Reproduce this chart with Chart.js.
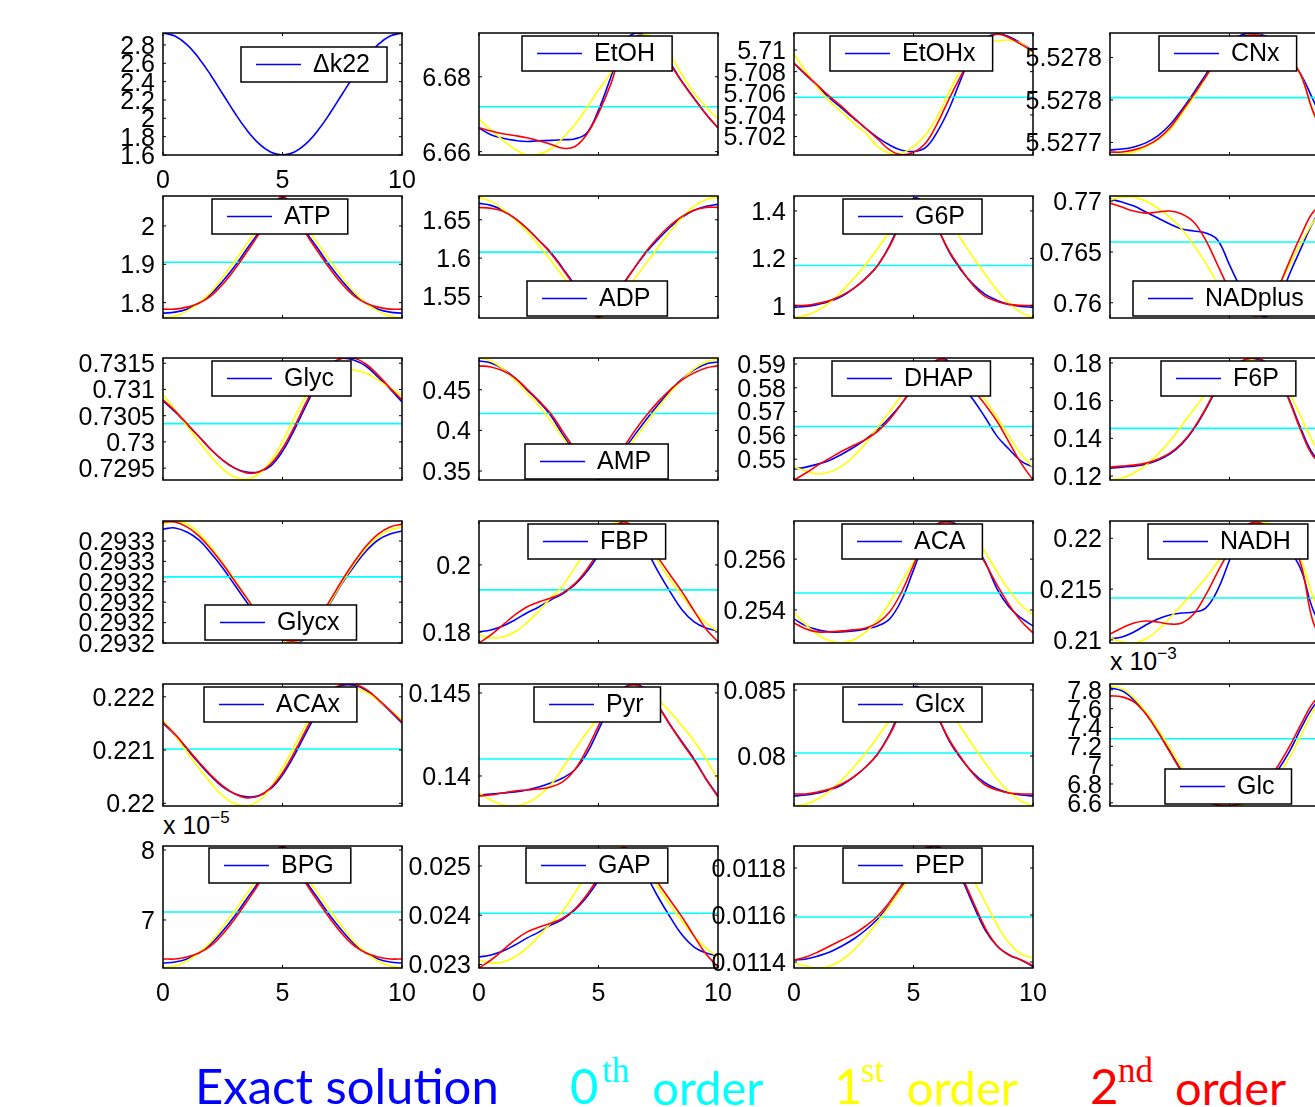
<!DOCTYPE html>
<html>
<head>
<meta charset="utf-8">
<script src="https://cdn.jsdelivr.net/npm/chart.js@4.4.0/dist/chart.umd.min.js"></script>
<style>
  html, body { margin: 0; padding: 0; background: #fff; overflow: hidden; }
  #page { position: relative; width: 1315px; height: 1107px; overflow: hidden; background: #fff; }
  #page canvas { position: absolute; }
  .expo { position: absolute; font-family: 'Liberation Sans', Arial, sans-serif; font-size: 25px; line-height: 25px; color: #000; white-space: nowrap; }
  .expo span { font-size: 17px; position: relative; top: -11px; }
  .key { position: absolute; top: 1061px; font-family: Lato, 'Open Sans', sans-serif; font-size: 49px; line-height: 49px; white-space: nowrap; }
  .word { font-size: 47px; top: 1063px; }
  .sup { position: absolute; top: 1053px; font-family: 'Liberation Serif', 'DejaVu Serif', serif; font-size: 35px; line-height: 35px; white-space: nowrap; }
</style>
</head>
<body>
<div id="page">
  <div class="expo" style="left:163px; top:813px;">x 10<span>&minus;5</span></div>
  <div class="expo" style="left:1110px; top:649px;">x 10<span>&minus;3</span></div>
  <div class="key" style="left:195px; color:#0000ff;">Exact solution</div>
  <div class="key" style="left:570px; color:#00ffff;">0</div>
  <div class="sup" style="left:602px; color:#00ffff;">th</div>
  <div class="key word" style="left:652px; color:#00ffff;">order</div>
  <div class="key" style="left:834px; color:#ffff00;">1</div>
  <div class="sup" style="left:861px; color:#ffff00;">st</div>
  <div class="key word" style="left:907px; color:#ffff00;">order</div>
  <div class="key" style="left:1090px; color:#ff0000;">2</div>
  <div class="sup" style="left:1118px; color:#ff0000;">nd</div>
  <div class="key word" style="left:1175px; color:#ff0000;">order</div>
</div>
<script>
// time axis shared by every panel
const tValues = [0,0.5,1,1.5,2,2.5,3,3.5,4,4.5,5,5.5,6,6.5,7,7.5,8,8.5,9,9.5,10];
const xTicks = [0, 5, 10];

// ---- Δk22
const dk22_exact = [2.930,2.897,2.803,2.656,2.470,2.265,2.060,1.874,1.727,1.633,1.600,1.633,1.727,1.874,2.060,2.265,2.470,2.656,2.803,2.897,2.930];
const dk22_range = [1.6, 2.93];
const dk22_ticks = [1.6,1.8,2,2.2,2.4,2.6,2.8];

// ---- EtOH
const etoh_exact = [6.6663,6.6645,6.6636,6.6630,6.6627,6.6629,6.6630,6.6632,6.6634,6.6649,6.6711,6.6796,6.6885,6.6916,6.6909,6.6877,6.6836,6.6787,6.6743,6.6700,6.6663];
const etoh_first = [6.6687,6.6658,6.6631,6.6607,6.6591,6.6593,6.6607,6.6636,6.6671,6.6716,6.6765,6.6809,6.6872,6.6904,6.6912,6.6898,6.6858,6.6805,6.6756,6.6720,6.6687];
const etoh_second = [6.6664,6.6655,6.6648,6.6643,6.6637,6.6629,6.6620,6.6609,6.6613,6.6645,6.6703,6.6778,6.6872,6.6906,6.6904,6.6872,6.6833,6.6785,6.6741,6.6700,6.6664];
const etoh_zeroth = 6.672;
const etoh_range = [6.6591, 6.6917];
const etoh_ticks = [6.66, 6.68];

// ---- EtOHx
const etohx_exact = [5.70877,5.70769,5.70662,5.70554,5.70462,5.70369,5.70277,5.70191,5.70123,5.70074,5.70062,5.70098,5.70246,5.70462,5.70738,5.70985,5.71108,5.71148,5.71123,5.71062,5.70991];
const etohx_first = [5.70960,5.70800,5.70652,5.70523,5.70425,5.70323,5.70231,5.70108,5.70046,5.70046,5.70108,5.70215,5.70385,5.70615,5.70831,5.70985,5.71077,5.71083,5.71092,5.71062,5.70969];
const etohx_second = [5.70877,5.70775,5.70671,5.70569,5.70477,5.70375,5.70277,5.70178,5.70077,5.70031,5.70055,5.70138,5.70323,5.70554,5.70769,5.70969,5.71092,5.71145,5.71114,5.71052,5.70985];
const etohx_zeroth = 5.70563;
const etohx_range = [5.7003, 5.71157];
const etohx_ticks = [5.702,5.704,5.706,5.708,5.71];

// ---- CNx
const cnx_exact = [5.5277365,5.5277369,5.5277379,5.5277398,5.5277431,5.5277482,5.5277553,5.5277633,5.5277718,5.5277802,5.5277868,5.5277906,5.5277913,5.5277901,5.5277859,5.5277798,5.5277718,5.5277600,5.5277482,5.5277412,5.5277374];
const cnx_first = [5.5277341,5.5277344,5.5277355,5.5277379,5.5277412,5.5277459,5.5277534,5.5277614,5.5277704,5.5277793,5.5277859,5.5277896,5.5277906,5.5277896,5.5277859,5.5277798,5.5277713,5.5277544,5.5277435,5.5277374,5.5277355];
const cnx_second = [5.5277355,5.5277355,5.5277365,5.5277384,5.5277416,5.5277468,5.5277544,5.5277624,5.5277708,5.5277793,5.5277859,5.5277896,5.5277906,5.5277896,5.5277859,5.5277798,5.5277713,5.5277544,5.5277435,5.5277374,5.5277355];
const cnx_zeroth = 5.5277611;
const cnx_range = [5.5277341, 5.5277915];
const cnx_ticks = [5.52774, 5.52776, 5.52778];
const cnx_labels = ['5.5277','5.5278','5.5278'];

// ---- ATP
const atp_exact = [1.7727,1.7753,1.7831,1.7987,1.8221,1.8558,1.8948,1.9390,1.9831,2.0351,2.0740,2.0351,1.9831,1.9390,1.8948,1.8558,1.8221,1.7987,1.7831,1.7753,1.7727];
const atp_first = [1.7597,1.7649,1.7779,1.7987,1.8273,1.8662,1.9078,1.9519,1.9961,2.0403,2.0662,2.0403,1.9961,1.9519,1.9078,1.8662,1.8273,1.7987,1.7779,1.7649,1.7597];
const atp_second = [1.7831,1.7831,1.7883,1.7987,1.8169,1.8481,1.8870,1.9312,1.9779,2.0325,2.0766,2.0325,1.9779,1.9312,1.8870,1.8481,1.8169,1.7987,1.7883,1.7831,1.7831];
const atp_zeroth = 1.9052;
const atp_range = [1.76, 2.078];
const atp_ticks = [1.8, 1.9, 2];

// ---- ADP
const adp_exact = [1.6714,1.6688,1.6623,1.6519,1.6390,1.6234,1.6078,1.5870,1.5649,1.5390,1.5247,1.5390,1.5649,1.5870,1.6078,1.6247,1.6403,1.6532,1.6623,1.6675,1.6701];
const adp_first = [1.6792,1.6740,1.6636,1.6506,1.6351,1.6169,1.5974,1.5766,1.5558,1.5351,1.5221,1.5325,1.5519,1.5727,1.5935,1.6143,1.6351,1.6532,1.6675,1.6766,1.6792];
const adp_second = [1.6662,1.6649,1.6610,1.6519,1.6390,1.6234,1.6065,1.5857,1.5636,1.5377,1.5234,1.5377,1.5636,1.5870,1.6091,1.6273,1.6429,1.6545,1.6623,1.6662,1.6662];
const adp_zeroth = 1.6078;
const adp_range = [1.522, 1.681];
const adp_ticks = [1.55, 1.6, 1.65];

// ---- G6P
const g6p_exact = [0.9937,0.9979,1.0063,1.0189,1.0400,1.0737,1.1158,1.1705,1.2547,1.3642,1.4526,1.4274,1.3305,1.2253,1.1495,1.0905,1.0484,1.0232,1.0063,0.9979,0.9937];
const g6p_first = [0.9516,0.9600,0.9811,1.0147,1.0611,1.1158,1.1747,1.2421,1.3137,1.3853,1.4358,1.4484,1.4189,1.3558,1.2800,1.2042,1.1326,1.0653,1.0105,0.9726,0.9516];
const g6p_second = [1.0021,1.0021,1.0105,1.0232,1.0442,1.0737,1.1158,1.1705,1.2505,1.3558,1.4484,1.4274,1.3305,1.2295,1.1537,1.0863,1.0400,1.0189,1.0063,1.0021,1.0021];
const g6p_zeroth = 1.1705;
const g6p_range = [0.949, 1.463];
const g6p_ticks = [1, 1.2, 1.4];

// ---- NADplus
const nadp_exact = [0.77020,0.76990,0.76951,0.76892,0.76833,0.76775,0.76725,0.76706,0.76686,0.76618,0.76373,0.76127,0.75931,0.75863,0.75980,0.76275,0.76539,0.76794,0.76961,0.77010,0.77020];
const nadp_first = [0.77010,0.77039,0.77039,0.77000,0.76931,0.76843,0.76725,0.76569,0.76392,0.76196,0.76029,0.75912,0.75873,0.75931,0.76147,0.76363,0.76588,0.76794,0.76941,0.77010,0.77020];
const nadp_second = [0.76980,0.76941,0.76902,0.76882,0.76892,0.76902,0.76873,0.76794,0.76618,0.76373,0.76127,0.75951,0.75873,0.75912,0.76127,0.76402,0.76667,0.76892,0.76980,0.77000,0.76980];
const nadp_zeroth = 0.76598;
const nadp_range = [0.7585, 0.7705];
const nadp_ticks = [0.76, 0.765, 0.77];

// ---- Glyc
const glyc_exact = [0.730783,0.730575,0.730330,0.730104,0.729858,0.729651,0.729500,0.729425,0.729425,0.729538,0.729821,0.730236,0.730708,0.731142,0.731462,0.731594,0.731557,0.731443,0.731236,0.731009,0.730764];
const glyc_first = [0.730896,0.730613,0.730311,0.730009,0.729726,0.729481,0.729330,0.729292,0.729387,0.729632,0.730009,0.730462,0.730896,0.731217,0.731368,0.731406,0.731368,0.731311,0.731179,0.731028,0.730877];
const glyc_second = [0.730802,0.730594,0.730349,0.730104,0.729858,0.729651,0.729500,0.729406,0.729425,0.729575,0.729877,0.730292,0.730764,0.731179,0.731481,0.731594,0.731594,0.731481,0.731274,0.731028,0.730802];
const glyc_zeroth = 0.730349;
const glyc_range = [0.729274, 0.7316];
const glyc_ticks = [0.7295, 0.73, 0.7305, 0.731, 0.7315];

// ---- AMP
const amp_exact = [0.4854,0.4829,0.4756,0.4646,0.4500,0.4354,0.4183,0.3951,0.3732,0.3524,0.3415,0.3524,0.3732,0.3939,0.4134,0.4317,0.4488,0.4634,0.4744,0.4817,0.4841];
const amp_first = [0.4890,0.4854,0.4756,0.4622,0.4463,0.4305,0.4122,0.3915,0.3707,0.3524,0.3402,0.3500,0.3683,0.3890,0.4085,0.4280,0.4463,0.4622,0.4756,0.4841,0.4878];
const amp_second = [0.4793,0.4780,0.4732,0.4646,0.4512,0.4366,0.4207,0.3988,0.3768,0.3549,0.3402,0.3549,0.3768,0.3988,0.4183,0.4354,0.4500,0.4622,0.4707,0.4768,0.4793];
const amp_zeroth = 0.4207;
const amp_range = [0.339, 0.489];
const amp_ticks = [0.35, 0.4, 0.45];

// ---- DHAP
const dhap_exact = [0.54583,0.54667,0.54792,0.54958,0.55208,0.55500,0.55833,0.56250,0.56750,0.57333,0.58000,0.58667,0.59167,0.59083,0.58125,0.57500,0.56750,0.55958,0.55417,0.54917,0.54667];
const dhap_first = [0.54667,0.54500,0.54375,0.54458,0.54708,0.55125,0.55667,0.56333,0.57000,0.57667,0.58250,0.58750,0.59083,0.59083,0.58750,0.58167,0.57500,0.56750,0.55958,0.55208,0.54667];
const dhap_second = [0.54125,0.54417,0.54750,0.55042,0.55333,0.55583,0.55833,0.56167,0.56667,0.57333,0.58083,0.58750,0.59167,0.59083,0.58542,0.57917,0.57292,0.56583,0.55708,0.54833,0.54125];
const dhap_zeroth = 0.56375;
const dhap_range = [0.54125, 0.5925];
const dhap_ticks = [0.55, 0.56, 0.57, 0.58, 0.59];

// ---- F6P
const f6p_exact = [0.12421,0.12474,0.12526,0.12632,0.12842,0.13158,0.13684,0.14474,0.15526,0.16684,0.17526,0.18053,0.18211,0.18053,0.17368,0.16053,0.14474,0.13158,0.12632,0.12474,0.12421];
const f6p_first = [0.11789,0.11895,0.12158,0.12579,0.13158,0.13842,0.14684,0.15526,0.16368,0.17158,0.17737,0.18053,0.18158,0.17947,0.17368,0.16421,0.15105,0.13789,0.12789,0.12105,0.11789];
const f6p_second = [0.12474,0.12526,0.12579,0.12684,0.12895,0.13211,0.13737,0.14526,0.15579,0.16737,0.17632,0.18105,0.18263,0.18053,0.17368,0.16000,0.14368,0.13053,0.12632,0.12526,0.12474];
const f6p_zeroth = 0.14526;
const f6p_range = [0.1179, 0.1826];
const f6p_ticks = [0.12, 0.14, 0.16, 0.18];

// ---- Glycx
const glycx_exact = [0.2932659,0.2932664,0.2932644,0.2932605,0.2932541,0.2932468,0.2932384,0.2932301,0.2932223,0.2932154,0.2932115,0.2932100,0.2932125,0.2932203,0.2932296,0.2932394,0.2932477,0.2932551,0.2932605,0.2932634,0.2932649];
const glycx_first = [0.2932683,0.2932698,0.2932683,0.2932639,0.2932571,0.2932492,0.2932409,0.2932321,0.2932237,0.2932164,0.2932115,0.2932105,0.2932129,0.2932208,0.2932301,0.2932399,0.2932487,0.2932566,0.2932620,0.2932654,0.2932669];
const glycx_second = [0.2932693,0.2932693,0.2932669,0.2932625,0.2932561,0.2932487,0.2932404,0.2932321,0.2932237,0.2932164,0.2932120,0.2932110,0.2932134,0.2932218,0.2932311,0.2932409,0.2932497,0.2932575,0.2932634,0.2932669,0.2932683];
const glycx_zeroth = 0.2932424;
const glycx_range = [0.29321, 0.2932698];
const glycx_ticks = [0.29321, 0.29322, 0.29323, 0.29324, 0.29325, 0.29326];
const glycx_labels = ['0.2932','0.2932','0.2932','0.2932','0.2933','0.2933'];

// ---- FBP
const fbp_exact = [0.18000,0.18060,0.18179,0.18358,0.18567,0.18746,0.18955,0.19134,0.19403,0.19791,0.20299,0.20896,0.21254,0.20985,0.20448,0.19791,0.19194,0.18657,0.18299,0.18119,0.18030];
const fbp_first = [0.17910,0.17821,0.17851,0.18000,0.18269,0.18627,0.19015,0.19373,0.19910,0.20448,0.20896,0.21194,0.21284,0.21045,0.20597,0.20090,0.19552,0.19075,0.18627,0.18269,0.18000];
const fbp_second = [0.17672,0.17910,0.18209,0.18507,0.18746,0.18896,0.19015,0.19164,0.19433,0.19851,0.20388,0.20955,0.21284,0.21104,0.20716,0.20209,0.19701,0.19194,0.18627,0.18090,0.17701];
const fbp_zeroth = 0.19254;
const fbp_range = [0.1767, 0.2131];
const fbp_ticks = [0.18, 0.2];

// ---- ACA
const aca_exact = [0.253647,0.253373,0.253216,0.253137,0.253137,0.253176,0.253255,0.253373,0.253647,0.254392,0.255569,0.256745,0.257373,0.257490,0.257216,0.256627,0.255882,0.254824,0.254118,0.253686,0.253373];
const aca_first = [0.253882,0.253412,0.253020,0.252784,0.252706,0.252824,0.253137,0.253608,0.254275,0.255098,0.255882,0.256549,0.257020,0.257255,0.257216,0.256902,0.256275,0.255490,0.254784,0.254196,0.253804];
const aca_second = [0.253490,0.253255,0.253137,0.253137,0.253176,0.253216,0.253294,0.253490,0.253922,0.254706,0.255765,0.256824,0.257373,0.257451,0.257216,0.256627,0.255843,0.254980,0.254196,0.253569,0.253098];
const aca_zeroth = 0.25467;
const aca_range = [0.2527, 0.2575];
const aca_ticks = [0.254, 0.256];

// ---- NADH
const nadh_exact = [0.210098,0.210294,0.210784,0.211471,0.212059,0.212451,0.212647,0.212745,0.213137,0.214902,0.217843,0.220784,0.221471,0.220980,0.219804,0.218824,0.216863,0.212941,0.210980,0.210294,0.210098];
const nadh_first = [0.210196,0.209804,0.209706,0.210098,0.210980,0.212157,0.213431,0.214706,0.216078,0.217647,0.219216,0.220588,0.221373,0.221569,0.220980,0.219804,0.217843,0.214216,0.211961,0.210686,0.210196];
const nadh_second = [0.210588,0.211176,0.211667,0.211863,0.211765,0.211569,0.211667,0.212549,0.214412,0.216667,0.218824,0.220784,0.221569,0.221275,0.220294,0.219804,0.217353,0.211765,0.210000,0.210392,0.211176];
const nadh_zeroth = 0.21412;
const nadh_range = [0.2097, 0.2217];
const nadh_ticks = [0.21, 0.215, 0.22];

// ---- ACAx
const acax_exact = [0.221505,0.221280,0.221019,0.220757,0.220514,0.220308,0.220178,0.220121,0.220140,0.220271,0.220533,0.220907,0.221336,0.221748,0.222065,0.222215,0.222215,0.222121,0.221935,0.221729,0.221505];
const acax_first = [0.221561,0.221280,0.220963,0.220664,0.220383,0.220140,0.219991,0.219953,0.220047,0.220290,0.220664,0.221075,0.221486,0.221822,0.222047,0.222159,0.222159,0.222084,0.221935,0.221748,0.221561];
const acax_second = [0.221523,0.221299,0.221037,0.220776,0.220533,0.220327,0.220178,0.220103,0.220140,0.220290,0.220570,0.220963,0.221393,0.221804,0.222103,0.222234,0.222234,0.222140,0.221953,0.221748,0.221523];
const acax_zeroth = 0.221019;
const acax_range = [0.21995, 0.22224];
const acax_ticks = [0.22, 0.221, 0.222];

// ---- Pyr
const pyr_exact = [0.138855,0.138916,0.138976,0.139036,0.139157,0.139337,0.139578,0.139880,0.140361,0.141325,0.142771,0.144277,0.145241,0.145542,0.145181,0.144217,0.143072,0.142048,0.141024,0.139819,0.138795];
const pyr_first = [0.138976,0.138554,0.138253,0.138193,0.138373,0.138795,0.139458,0.140482,0.141566,0.142590,0.143494,0.144277,0.144819,0.145060,0.145000,0.144578,0.143855,0.143012,0.142108,0.141024,0.139759];
const pyr_second = [0.138795,0.138855,0.138976,0.139096,0.139157,0.139217,0.139337,0.139639,0.140361,0.141566,0.143012,0.144398,0.145241,0.145482,0.145181,0.144217,0.143072,0.141988,0.140964,0.139819,0.138735];
const pyr_zeroth = 0.141024;
const pyr_range = [0.13819, 0.14554];
const pyr_ticks = [0.14, 0.145];

// ---- Glcx
const glcx_exact = [0.076970,0.077045,0.077197,0.077424,0.077803,0.078409,0.079167,0.080152,0.081667,0.083636,0.085227,0.084773,0.083030,0.081136,0.079773,0.078712,0.077955,0.077500,0.077197,0.077045,0.076970];
const glcx_first = [0.076212,0.076364,0.076742,0.077348,0.078182,0.079167,0.080227,0.081439,0.082727,0.084015,0.084924,0.085152,0.084621,0.083485,0.082121,0.080758,0.079470,0.078258,0.077273,0.076591,0.076212];
const glcx_second = [0.077121,0.077121,0.077273,0.077500,0.077879,0.078409,0.079167,0.080152,0.081591,0.083485,0.085152,0.084773,0.083030,0.081212,0.079848,0.078636,0.077803,0.077424,0.077197,0.077121,0.077121];
const glcx_zeroth = 0.080227;
const glcx_range = [0.07621, 0.085455];
const glcx_ticks = [0.08, 0.085];

// ---- Glc (axis shown as x 10^-3)
const glc_exact = [7.8213e-3,7.7894e-3,7.6936e-3,7.5447e-3,7.3638e-3,7.1511e-3,6.9383e-3,6.7574e-3,6.6298e-3,6.5766e-3,6.5660e-3,6.5872e-3,6.6617e-3,6.7787e-3,6.9383e-3,7.1404e-3,7.3957e-3,7.6191e-3,7.7574e-3,7.8106e-3,7.8213e-3];
const glc_first = [7.8426e-3,7.8106e-3,7.7149e-3,7.5660e-3,7.3851e-3,7.1830e-3,6.9809e-3,6.8000e-3,6.6617e-3,6.5872e-3,6.5660e-3,6.5766e-3,6.6298e-3,6.7362e-3,6.8851e-3,7.0766e-3,7.3213e-3,7.5766e-3,7.7574e-3,7.8319e-3,7.8426e-3];
const glc_second = [7.7362e-3,7.7255e-3,7.6723e-3,7.5447e-3,7.3532e-3,7.1404e-3,6.9277e-3,6.7468e-3,6.6298e-3,6.5766e-3,6.5660e-3,6.5979e-3,6.6830e-3,6.8106e-3,6.9809e-3,7.1936e-3,7.4383e-3,7.6617e-3,7.7681e-3,7.7787e-3,7.7574e-3];
const glc_zeroth = 7.28e-3;
const glc_range = [6.566e-3, 7.862e-3];
const glc_ticks = [6.6e-3, 6.8e-3, 7.0e-3, 7.2e-3, 7.4e-3, 7.6e-3, 7.8e-3];
const glc_labels = ['6.6','6.8','7','7.2','7.4','7.6','7.8'];

// ---- BPG (axis shown as x 10^-5)
const bpg_exact = [6.3857e-5,6.4000e-5,6.4429e-5,6.5286e-5,6.6571e-5,6.8429e-5,7.0571e-5,7.3000e-5,7.5429e-5,7.8286e-5,8.0429e-5,7.8286e-5,7.5429e-5,7.3000e-5,7.0571e-5,6.8429e-5,6.6571e-5,6.5286e-5,6.4429e-5,6.4000e-5,6.3857e-5];
const bpg_first = [6.3143e-5,6.3429e-5,6.4143e-5,6.5286e-5,6.6857e-5,6.9000e-5,7.1286e-5,7.3714e-5,7.6143e-5,7.8571e-5,8.0000e-5,7.8571e-5,7.6143e-5,7.3714e-5,7.1286e-5,6.9000e-5,6.6857e-5,6.5286e-5,6.4143e-5,6.3429e-5,6.3143e-5];
const bpg_second = [6.4429e-5,6.4429e-5,6.4714e-5,6.5286e-5,6.6286e-5,6.8000e-5,7.0143e-5,7.2571e-5,7.5143e-5,7.8143e-5,8.0571e-5,7.8143e-5,7.5143e-5,7.2571e-5,7.0143e-5,6.8000e-5,6.6286e-5,6.5286e-5,6.4714e-5,6.4429e-5,6.4429e-5];
const bpg_zeroth = 7.114e-5;
const bpg_range = [6.314e-5, 8.057e-5];
const bpg_ticks = [7e-5, 8e-5];
const bpg_labels = ['7','8'];

// ---- GAP
const gap_exact = [0.023152,0.023192,0.023273,0.023394,0.023535,0.023657,0.023798,0.023919,0.024101,0.024364,0.024707,0.025111,0.025354,0.025172,0.024808,0.024364,0.023960,0.023596,0.023354,0.023232,0.023172];
const gap_first = [0.023091,0.023030,0.023051,0.023152,0.023333,0.023576,0.023838,0.024081,0.024444,0.024808,0.025111,0.025313,0.025374,0.025212,0.024909,0.024566,0.024202,0.023879,0.023576,0.023333,0.023152];
const gap_second = [0.022929,0.023091,0.023293,0.023495,0.023657,0.023758,0.023838,0.023939,0.024121,0.024404,0.024768,0.025152,0.025374,0.025253,0.024990,0.024646,0.024303,0.023960,0.023576,0.023212,0.022949];
const gap_zeroth = 0.02404;
const gap_range = [0.022929, 0.025404];
const gap_ticks = [0.023, 0.024, 0.025];

// ---- PEP
const pep_exact = [0.0114085,0.0114128,0.0114255,0.0114426,0.0114681,0.0114979,0.0115362,0.0115830,0.0116426,0.0117149,0.0118000,0.0118766,0.0118894,0.0118426,0.0117574,0.0116426,0.0115362,0.0114681,0.0114298,0.0114085,0.0113800];
const pep_first = [0.0113957,0.0113830,0.0113745,0.0113830,0.0114085,0.0114511,0.0115064,0.0115702,0.0116383,0.0117106,0.0117787,0.0118340,0.0118681,0.0118681,0.0118255,0.0117489,0.0116553,0.0115574,0.0114809,0.0114340,0.0114170];
const pep_second = [0.0114085,0.0114213,0.0114426,0.0114681,0.0114936,0.0115191,0.0115532,0.0115957,0.0116553,0.0117277,0.0118128,0.0118851,0.0118936,0.0118468,0.0117660,0.0116553,0.0115447,0.0114681,0.0114298,0.0114085,0.0113843];
const pep_zeroth = 0.0115915;
const pep_range = [0.0113745, 0.0118936];
const pep_ticks = [0.0114, 0.0116, 0.0118];

// panel layout: grid cell, legend box offset inside the axes box
const panels = [
  { name: 'Δk22',   row: 0, col: 0, exact: dk22_exact,  range: dk22_range,  ticks: dk22_ticks,  legend: [78, 14], showX: true },
  { name: 'EtOH',   row: 0, col: 1, exact: etoh_exact,  first: etoh_first,  second: etoh_second,  zeroth: etoh_zeroth,  range: etoh_range,  ticks: etoh_ticks,  legend: [43, 3] },
  { name: 'EtOHx',  row: 0, col: 2, exact: etohx_exact, first: etohx_first, second: etohx_second, zeroth: etohx_zeroth, range: etohx_range, ticks: etohx_ticks, legend: [36, 3] },
  { name: 'CNx',    row: 0, col: 3, exact: cnx_exact,   first: cnx_first,   second: cnx_second,   zeroth: cnx_zeroth,   range: cnx_range,   ticks: cnx_ticks,   labels: cnx_labels, legend: [49, 3] },
  { name: 'ATP',    row: 1, col: 0, exact: atp_exact,   first: atp_first,   second: atp_second,   zeroth: atp_zeroth,   range: atp_range,   ticks: atp_ticks,   legend: [49, 3] },
  { name: 'ADP',    row: 1, col: 1, exact: adp_exact,   first: adp_first,   second: adp_second,   zeroth: adp_zeroth,   range: adp_range,   ticks: adp_ticks,   legend: [48, 85] },
  { name: 'G6P',    row: 1, col: 2, exact: g6p_exact,   first: g6p_first,   second: g6p_second,   zeroth: g6p_zeroth,   range: g6p_range,   ticks: g6p_ticks,   legend: [49, 3] },
  { name: 'NADplus',row: 1, col: 3, exact: nadp_exact,  first: nadp_first,  second: nadp_second,  zeroth: nadp_zeroth,  range: nadp_range,  ticks: nadp_ticks,  legend: [23, 85] },
  { name: 'Glyc',   row: 2, col: 0, exact: glyc_exact,  first: glyc_first,  second: glyc_second,  zeroth: glyc_zeroth,  range: glyc_range,  ticks: glyc_ticks,  legend: [49, 3] },
  { name: 'AMP',    row: 2, col: 1, exact: amp_exact,   first: amp_first,   second: amp_second,   zeroth: amp_zeroth,   range: amp_range,   ticks: amp_ticks,   legend: [46, 86] },
  { name: 'DHAP',   row: 2, col: 2, exact: dhap_exact,  first: dhap_first,  second: dhap_second,  zeroth: dhap_zeroth,  range: dhap_range,  ticks: dhap_ticks,  legend: [38, 3] },
  { name: 'F6P',    row: 2, col: 3, exact: f6p_exact,   first: f6p_first,   second: f6p_second,   zeroth: f6p_zeroth,   range: f6p_range,   ticks: f6p_ticks,   legend: [51, 3] },
  { name: 'Glycx',  row: 3, col: 0, exact: glycx_exact, first: glycx_first, second: glycx_second, zeroth: glycx_zeroth, range: glycx_range, ticks: glycx_ticks, labels: glycx_labels, legend: [42, 84] },
  { name: 'FBP',    row: 3, col: 1, exact: fbp_exact,   first: fbp_first,   second: fbp_second,   zeroth: fbp_zeroth,   range: fbp_range,   ticks: fbp_ticks,   legend: [49, 3] },
  { name: 'ACA',    row: 3, col: 2, exact: aca_exact,   first: aca_first,   second: aca_second,   zeroth: aca_zeroth,   range: aca_range,   ticks: aca_ticks,   legend: [48, 3] },
  { name: 'NADH',   row: 3, col: 3, exact: nadh_exact,  first: nadh_first,  second: nadh_second,  zeroth: nadh_zeroth,  range: nadh_range,  ticks: nadh_ticks,  legend: [38, 3] },
  { name: 'ACAx',   row: 4, col: 0, exact: acax_exact,  first: acax_first,  second: acax_second,  zeroth: acax_zeroth,  range: acax_range,  ticks: acax_ticks,  legend: [41, 3] },
  { name: 'Pyr',    row: 4, col: 1, exact: pyr_exact,   first: pyr_first,   second: pyr_second,   zeroth: pyr_zeroth,   range: pyr_range,   ticks: pyr_ticks,   legend: [55, 3] },
  { name: 'Glcx',   row: 4, col: 2, exact: glcx_exact,  first: glcx_first,  second: glcx_second,  zeroth: glcx_zeroth,  range: glcx_range,  ticks: glcx_ticks,  legend: [49, 3] },
  { name: 'Glc',    row: 4, col: 3, exact: glc_exact,   first: glc_first,   second: glc_second,   zeroth: glc_zeroth,   range: glc_range,   ticks: glc_ticks,   labels: glc_labels, legend: [55, 85] },
  { name: 'BPG',    row: 5, col: 0, exact: bpg_exact,   first: bpg_first,   second: bpg_second,   zeroth: bpg_zeroth,   range: bpg_range,   ticks: bpg_ticks,   labels: bpg_labels, legend: [46, 2], showX: true },
  { name: 'GAP',    row: 5, col: 1, exact: gap_exact,   first: gap_first,   second: gap_second,   zeroth: gap_zeroth,   range: gap_range,   ticks: gap_ticks,   legend: [47, 2], showX: true },
  { name: 'PEP',    row: 5, col: 2, exact: pep_exact,   first: pep_first,   second: pep_second,   zeroth: pep_zeroth,   range: pep_range,   ticks: pep_ticks,   legend: [49, 2], showX: true }
];

const FONT = "'Liberation Sans', Arial, Helvetica, sans-serif";
const BOX_W = 239, BOX_H = 122;
const PAD_L = 110, PAD_T = 26, PAD_R = 26, PAD_B = 44;
const colLeft = [163, 479, 794, 1110];
const rowTop = [33, 196, 358, 521, 684, 846];

// MATLAB-like axes box, inward ticks and an opaque legend box drawn over the lines
const matlabAxes = {
  id: 'matlabAxes',
  afterDatasetsDraw(chart, args, opts) {
    const { ctx, chartArea: a } = chart;
    const xs = chart.scales.x, ys = chart.scales.y;
    ctx.save();
    ctx.strokeStyle = '#000';
    ctx.lineWidth = 1;
    ctx.beginPath();
    ys.ticks.forEach(t => {
      const y = ys.getPixelForValue(t.value);
      ctx.moveTo(a.left, y); ctx.lineTo(a.left + 3, y);
      ctx.moveTo(a.right, y); ctx.lineTo(a.right - 3, y);
    });
    xs.ticks.forEach(t => {
      const x = xs.getPixelForValue(t.value);
      ctx.moveTo(x, a.bottom); ctx.lineTo(x, a.bottom - 3);
      ctx.moveTo(x, a.top); ctx.lineTo(x, a.top + 3);
    });
    ctx.stroke();
    ctx.lineWidth = 1.5;
    ctx.strokeRect(a.left, a.top, a.right - a.left, a.bottom - a.top);

    if (opts.label) {
      ctx.font = '25px ' + FONT;
      const tw = ctx.measureText(opts.label).width;
      const bx = a.left + opts.x, by = a.top + opts.y, bw = tw + 89, bh = 35;
      ctx.fillStyle = '#fff';
      ctx.fillRect(bx, by, bw, bh);
      ctx.strokeRect(bx, by, bw, bh);
      ctx.strokeStyle = '#0000ff';
      ctx.lineWidth = 1.5;
      ctx.beginPath();
      ctx.moveTo(bx + 15, by + bh / 2);
      ctx.lineTo(bx + 60, by + bh / 2);
      ctx.stroke();
      ctx.fillStyle = '#000';
      ctx.textBaseline = 'middle';
      ctx.fillText(opts.label, bx + 72, by + bh / 2 + 1);
    }
    ctx.restore();
  }
};

function series(values, color, order) {
  return {
    data: values.map((v, i) => ({ x: tValues[i], y: v })),
    borderColor: color,
    borderWidth: 1.6,
    pointRadius: 0,
    tension: 0.4,
    fill: false,
    order: order
  };
}

function makePanel(p) {
  const page = document.getElementById('page');
  const canvas = document.createElement('canvas');
  const w = PAD_L + BOX_W + PAD_R, h = PAD_T + BOX_H + PAD_B;
  canvas.width = w; canvas.height = h;
  canvas.style.width = w + 'px'; canvas.style.height = h + 'px';
  canvas.style.left = (colLeft[p.col] - PAD_L) + 'px';
  canvas.style.top = (rowTop[p.row] - PAD_T) + 'px';
  page.appendChild(canvas);

  const datasets = [series(p.exact, '#0000ff', 4)];
  if (p.zeroth !== undefined) {
    datasets.push({
      data: [{ x: 0, y: p.zeroth }, { x: 10, y: p.zeroth }],
      borderColor: '#00ffff', borderWidth: 1.6, pointRadius: 0, fill: false, order: 3
    });
  }
  if (p.first) datasets.push(series(p.first, '#ffff00', 2));
  if (p.second) datasets.push(series(p.second, '#ff0000', 1));

  const tickFont = { family: FONT, size: 25 };

  new Chart(canvas, {
    type: 'line',
    data: { datasets },
    options: {
      responsive: false,
      animation: false,
      devicePixelRatio: 1,
      layout: { padding: { left: 0, top: PAD_T, right: PAD_R, bottom: 0 } },
      plugins: {
        legend: { display: false },
        tooltip: { enabled: false },
        matlabAxes: { label: p.name, x: p.legend[0], y: p.legend[1] }
      },
      scales: {
        x: {
          type: 'linear', min: 0, max: 10,
          grid: { display: false, drawTicks: false },
          border: { display: false },
          afterBuildTicks: s => { s.ticks = xTicks.map(v => ({ value: v })); },
          afterFit: s => { s.height = PAD_B; },
          ticks: { display: !!p.showX, autoSkip: false, maxRotation: 0, padding: 11, color: '#000', font: tickFont,
                   callback: v => String(v) }
        },
        y: {
          type: 'linear', min: p.range[0], max: p.range[1], bounds: 'data',
          grid: { display: false, drawTicks: false },
          border: { display: false },
          afterBuildTicks: s => { s.ticks = p.ticks.map(v => ({ value: v })); },
          afterFit: s => { s.width = PAD_L; },
          ticks: { autoSkip: false, padding: 8, labelOffset: 2, color: '#000', font: tickFont,
                   callback: (v, i) => p.labels ? p.labels[i] : String(p.ticks[i]) }
        }
      }
    },
    plugins: [matlabAxes]
  });
}

panels.forEach(makePanel);
</script>
</body>
</html>
